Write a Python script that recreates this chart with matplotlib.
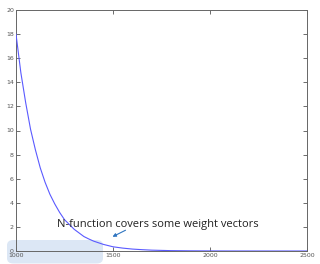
import matplotlib.pyplot as plt
from matplotlib.patches import FancyBboxPatch

# curve values
x_vals = [1000, 1025, 1050, 1075, 1100, 1125, 1150, 1175, 1200, 1225, 1250, 1275,
          1300, 1325, 1350, 1375, 1400, 1450, 1500, 1550, 1600, 1650, 1700, 1750,
          1800, 1900, 2000, 2100, 2200, 2300, 2400, 2500]
y_vals = [18.0, 14.8, 12.3, 10.1, 8.4, 6.9, 5.7, 4.7, 3.9, 3.2, 2.6, 2.2,
          1.8, 1.5, 1.2, 1.0, 0.82, 0.55, 0.35, 0.24, 0.16, 0.11, 0.07, 0.05,
          0.03, 0.015, 0.007, 0.003, 0.002, 0.001, 0.0005, 0.0]
x_ticks = [1000, 1500, 2000, 2500]
y_ticks = [0, 2, 4, 6, 8, 10, 12, 14, 16, 18, 20]
note_text = 'N-function covers some weight vectors'

fig = plt.figure(figsize=(3.2, 2.64), dpi=100)
ax = fig.add_axes([16 / 320, 13 / 264, 291 / 320, 241 / 264])

# shaded box behind the lower-left corner
box = FancyBboxPatch((7 / 320, 0.5 / 264), 96 / 320, 23.5 / 264,
                     boxstyle='round,pad=0,rounding_size=0.02',
                     transform=fig.transFigure, facecolor='#dce7f5',
                     edgecolor='none', zorder=-5)
fig.patches.append(box)
ax.patch.set_alpha(0)

ax.plot(x_vals, y_vals, color='#5a5aff', lw=0.8, zorder=3)
ax.set_xlim(1000, 2500)
ax.set_ylim(0, 20)
ax.set_xticks(x_ticks)
ax.set_yticks(y_ticks)
ax.tick_params(direction='in', length=3, width=0.6, labelsize=4.5,
               colors='#555555', top=True, right=True, pad=1.5)
for s in ax.spines.values():
    s.set_color('#666666')
    s.set_linewidth(0.7)

fig.text(57 / 320, 1 - 227 / 264, note_text, family='Open Sans', fontsize=8.05,
         color='#222222', ha='left', va='baseline')
ax.annotate('', xy=(110 / 320, 1 - 238 / 264), xytext=(128 / 320, 1 - 229 / 264),
            xycoords='figure fraction', textcoords='figure fraction',
            arrowprops=dict(arrowstyle='-|>', color='#2f75c0', lw=0.8,
                            mutation_scale=5))

fig.savefig('out.png', dpi=100)
